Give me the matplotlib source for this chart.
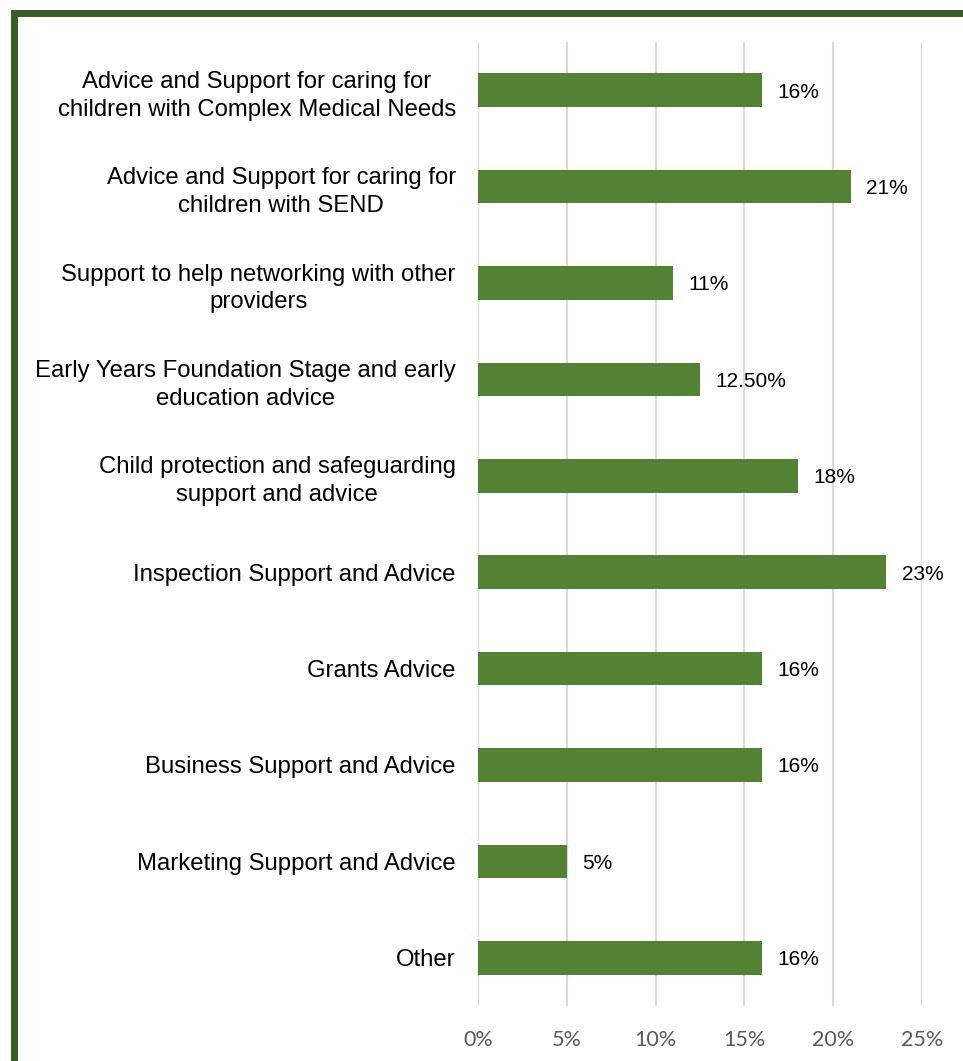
import matplotlib
matplotlib.use('Agg')
import matplotlib.pyplot as plt
from matplotlib.patches import Rectangle

categories = [
    'Advice and Support for caring for\nchildren with Complex Medical Needs',
    'Advice and Support for caring for\nchildren with SEND',
    'Support to help networking with other\nproviders',
    'Early Years Foundation Stage and early\neducation advice',
    'Child protection and safeguarding\nsupport and advice',
    'Inspection Support and Advice',
    'Grants Advice',
    'Business Support and Advice',
    'Marketing Support and Advice',
    'Other',
]
values = [0.16, 0.21, 0.11, 0.125, 0.18, 0.23, 0.16, 0.16, 0.05, 0.16]
value_labels = ['16%', '21%', '11%', '12.50%', '18%', '23%', '16%', '16%', '5%', '16%']
xticks = [0, 0.05, 0.10, 0.15, 0.20, 0.25]
xtick_labels = ['0%', '5%', '10%', '15%', '20%', '25%']

fig = plt.figure(figsize=(9.63, 10.61), dpi=100)
ax = fig.add_axes([478 / 963, 1 - 1006 / 1061, (922 - 478) / 963, (1006 - 42) / 1061])

ypos = list(range(len(categories)))
bars = ax.barh(ypos, values, height=0.35, color='#548235', zorder=3)
lbls = ax.bar_label(bars, labels=value_labels, padding=11, fontsize=15,
                    family='Liberation Sans', color='#000000')
for t in lbls:
    t.set_va('center_baseline')

ax.set_ylim(len(categories) - 0.5, -0.5)
ax.set_xlim(0, 0.25)
ax.set_yticks(ypos)
ax.set_yticklabels(categories, family='Liberation Sans', fontsize=17.2,
                   multialignment='center', linespacing=1.35)
ax.set_xticks(xticks)
ax.set_xticklabels(xtick_labels, family='Lato', fontsize=15.5, color='#595959')
ax.tick_params(axis='y', length=0, pad=16)
ax.tick_params(axis='x', length=0, pad=17)
ax.xaxis.grid(True, color='#d9d9d9', linewidth=1.5, zorder=0)
for s in ax.spines.values():
    s.set_visible(False)

# dark green frame, cut off at the right and bottom edges
fig.patches.append(Rectangle((13.5 / 963, -0.1), 1.2, 1 - 13.5 / 1061 + 0.1,
                             transform=fig.transFigure, fill=False,
                             edgecolor='#3a5a27', linewidth=5.0))

fig.savefig('out.png', dpi=100)
